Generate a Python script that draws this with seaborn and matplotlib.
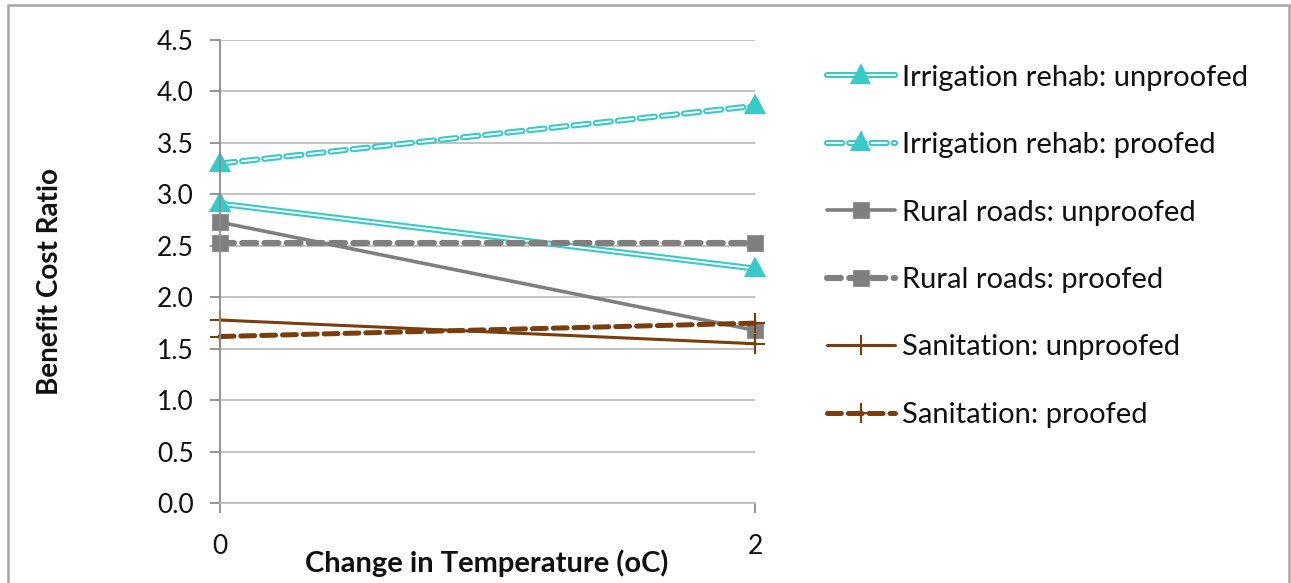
import matplotlib
matplotlib.use("Agg")
import matplotlib.pyplot as plt
import matplotlib.patheffects as pe
from matplotlib.patches import Rectangle
import seaborn as sns

# ---- data ----
temps = [0, 2]
irr_unproofed = [2.91, 2.28]
irr_proofed = [3.30, 3.86]
roads_unproofed = [2.73, 1.68]
roads_proofed = [2.53, 2.53]
san_unproofed = [1.78, 1.55]
san_proofed = [1.62, 1.75]
series_labels = ["Irrigation rehab: unproofed", "Irrigation rehab: proofed",
                 "Rural roads: unproofed", "Rural roads: proofed",
                 "Sanitation: unproofed", "Sanitation: proofed"]
y_ticks = [0.0, 0.5, 1.0, 1.5, 2.0, 2.5, 3.0, 3.5, 4.0, 4.5]
x_ticks = [0, 2]

sns.set_theme(style="white")
plt.rcParams["font.family"] = ["Lato", "DejaVu Sans"]
plt.rcParams["lines.scale_dashes"] = False

CYAN = "#38C9C9"
GRAY = "#7F7F7F"
BROWN = "#7A3E0E"

fig = plt.figure(figsize=(12.91, 5.83), dpi=100)
ax = fig.add_axes([220 / 1291, 1 - 503.3 / 583, (755 - 220) / 1291, (503.3 - 40) / 583])

double = [pe.Stroke(linewidth=4.4, foreground=CYAN), pe.Normal()]

sns.lineplot(x=temps, y=irr_unproofed, ax=ax, color="white", lw=1.4,
             marker="^", markersize=8, markerfacecolor=CYAN, markeredgecolor=CYAN,
             markeredgewidth=0.5, path_effects=double, clip_on=False,
             label=series_labels[0], errorbar=None, legend=False)
sns.lineplot(x=temps, y=irr_proofed, ax=ax, color="white", lw=1.4,
             dashes=(11, 5), dash_capstyle="round",
             marker="^", markersize=8, markerfacecolor=CYAN, markeredgecolor=CYAN,
             markeredgewidth=0.5, path_effects=double, clip_on=False,
             label=series_labels[1], errorbar=None, legend=False)
sns.lineplot(x=temps, y=roads_unproofed, ax=ax, color=GRAY, lw=2.6,
             marker="s", markersize=12, markerfacecolor=GRAY, markeredgecolor=GRAY,
             markeredgewidth=0.5, clip_on=False,
             label=series_labels[2], errorbar=None, legend=False)
sns.lineplot(x=temps, y=roads_proofed, ax=ax, color=GRAY, lw=4.4,
             dashes=(10, 6), dash_capstyle="round",
             marker="s", markersize=12, markerfacecolor=GRAY, markeredgecolor=GRAY,
             markeredgewidth=0.5, clip_on=False,
             label=series_labels[3], errorbar=None, legend=False)
sns.lineplot(x=temps, y=san_unproofed, ax=ax, color=BROWN, lw=2.2,
             marker="+", markersize=14, markerfacecolor=BROWN, markeredgecolor=BROWN,
             markeredgewidth=1.5, clip_on=False,
             label=series_labels[4], errorbar=None, legend=False)
sns.lineplot(x=temps, y=san_proofed, ax=ax, color=BROWN, lw=3.6,
             dashes=(10, 5), dash_capstyle="round",
             marker="+", markersize=14, markerfacecolor=BROWN, markeredgecolor=BROWN,
             markeredgewidth=1.5, clip_on=False,
             label=series_labels[5], errorbar=None, legend=False)

ax.set_xlim(0, 2)
ax.set_ylim(0, 4.5)
ax.set_yticks(y_ticks)
ax.set_yticklabels([f"{v:.1f}" for v in y_ticks])
ax.set_xticks(x_ticks)
ax.set_xticklabels([str(v) for v in x_ticks])
ax.grid(axis="y", color="#BDBDBD", lw=1.3)
ax.grid(axis="x", visible=False)
ax.set_axisbelow(True)
for s in ["top", "right"]:
    ax.spines[s].set_visible(False)
ax.spines["left"].set_color("#8C8C8C")
ax.spines["left"].set_linewidth(1.3)
ax.spines["bottom"].set_color("#BDBDBD")
ax.spines["bottom"].set_linewidth(1.3)
ax.tick_params(axis="y", which="major", left=True, length=7, width=1.3, color="#8C8C8C",
               labelsize=19, pad=12, labelcolor="#111111")
ax.tick_params(axis="x", which="major", bottom=True, length=7, width=1.3, color="#8C8C8C",
               labelsize=19, pad=15, labelcolor="#111111")

ax.set_ylabel("Benefit Cost Ratio", fontsize=20, fontweight="bold", color="#111111")
ax.yaxis.set_label_coords((63 - 220) / 535, 0.478)
ax.set_xlabel("Change in Temperature (oC)", fontsize=21, fontweight="bold", color="#111111")
ax.xaxis.set_label_coords((487 - 220) / 535, -(549 - 503.3) / 463.3)
ax.xaxis.label.set_va("top")

handles, labels = ax.get_legend_handles_labels()
fig.legend(handles, labels, loc="upper left", bbox_to_anchor=(815 / 1291, 1 - 53 / 583),
           frameon=False, fontsize=21, handlelength=2.35, handletextpad=0.25,
           labelspacing=1.42, borderaxespad=0, labelcolor="#111111")

fig.add_artist(Rectangle((8 / 1291, -0.05), (1289 - 8) / 1291, 1.05 - 5 / 583,
                         transform=fig.transFigure, fill=False, edgecolor="#A6A6A6", lw=1.8))

fig.savefig("out.png", dpi=100)
